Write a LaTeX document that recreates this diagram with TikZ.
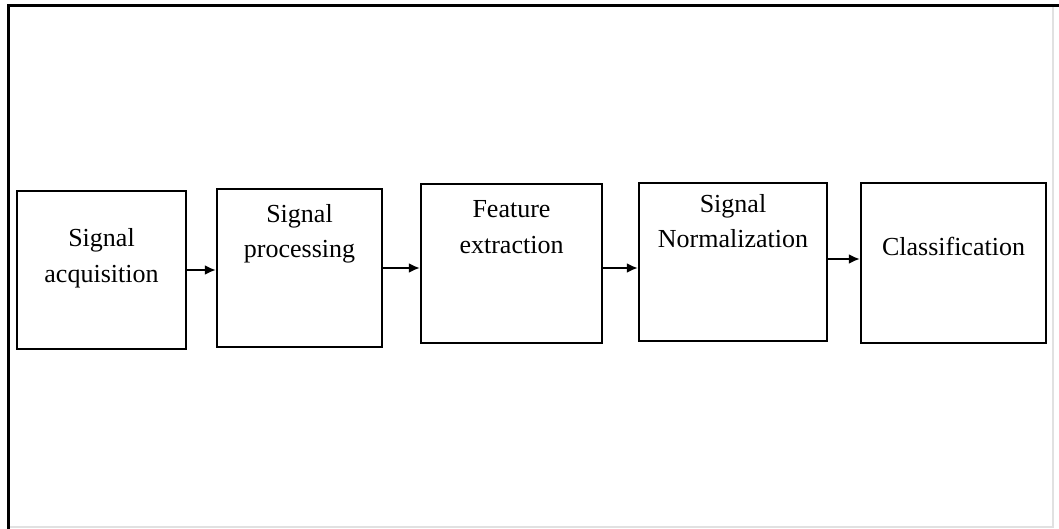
\documentclass[tikz,border=0pt]{standalone}
\usepackage{fontspec}
\setmainfont{Liberation Serif}
\usetikzlibrary{arrows.meta}
\definecolor{framegray}{RGB}{225,225,225}

\tikzset{
  blockbox/.style={draw=black, line width=1.2pt, rectangle, inner sep=0pt},
  blocktext/.style={font=\fontsize{13}{17.5}\selectfont, align=center, anchor=base, inner sep=0pt},
  flowarrow/.style={line width=1pt, -{Latex[length=5.5pt,width=5pt]}}
}

\begin{document}
\begin{tikzpicture}[x=0.5pt, y=-0.5pt]
  \useasboundingbox (0,0) rectangle (1059,529);

  % Rahmen
  \draw[framegray, line width=0.8pt] (1053,6) -- (1053,527) -- (8,527);
  \draw[black, line width=1.5pt] (8,529) -- (8,6) -- (1059,6);

  % Bloecke
  \node[blockbox, minimum width=84.5pt, minimum height=79pt] (acq) at (101.5,270) {};
  \node[blockbox, minimum width=82.5pt, minimum height=79pt] (proc) at (299.5,268) {};
  \node[blockbox, minimum width=90.5pt, minimum height=79.5pt] (feat) at (511.5,263.5) {};
  \node[blockbox, minimum width=94pt, minimum height=79pt] (norm) at (733,262) {};
  \node[blockbox, minimum width=92.5pt, minimum height=80pt] (clas) at (953.5,263) {};

  % Beschriftungen (base = letzte Zeile)
  \node[blocktext] (acqtext) at (101.5,282) {Signal\\acquisition};
  \node[blocktext] (proctext) at (299.5,257) {Signal\\processing};
  \node[blocktext] (feattext) at (511.5,253) {Feature\\extraction};
  \node[blocktext] (normtext) at (733,248) {Signal\\Normalization};
  \node[blocktext] (clastext) at (953.5,256) {Classification};

  % Pfeile
  \draw[flowarrow] (acq.east) -- (acq.east -| proc.west);
  \draw[flowarrow] (proc.east) -- (proc.east -| feat.west);
  \draw[flowarrow] ([yshift=-2.25pt]feat.east) -- ([yshift=-2.25pt]feat.east -| norm.west);
  \draw[flowarrow] ([yshift=1.5pt]norm.east) -- ([yshift=1.5pt]norm.east -| clas.west);
\end{tikzpicture}
\end{document}
